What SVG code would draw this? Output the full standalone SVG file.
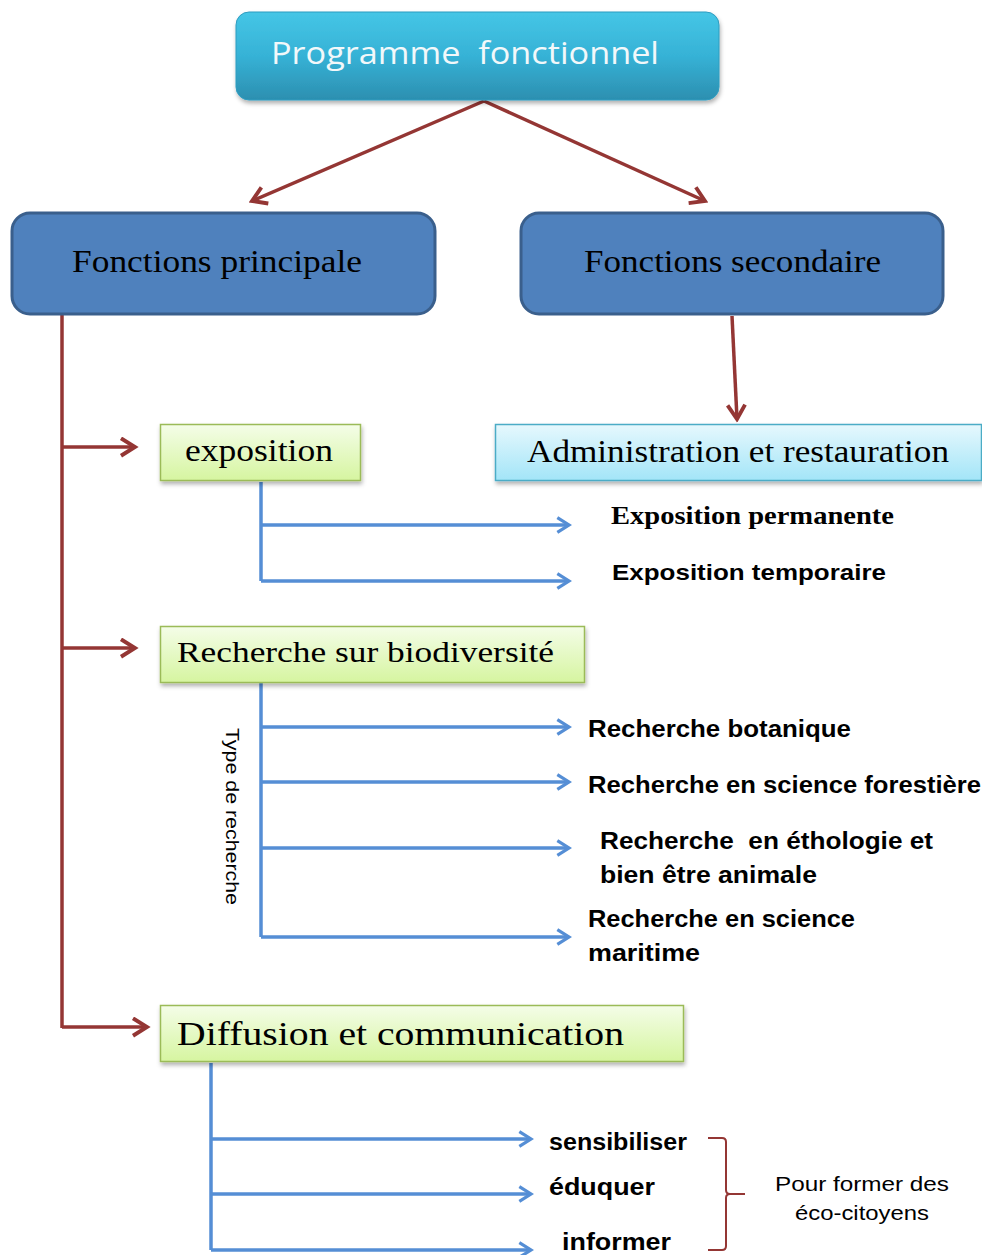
<svg xmlns="http://www.w3.org/2000/svg" width="982" height="1255" viewBox="0 0 982 1255">
<style>
.serif{font-family:"Liberation Serif","Times New Roman",serif;fill:#000}
.sans{font-family:"Liberation Sans",Arial,sans-serif;fill:#000}
.red{stroke:#943634;stroke-width:3.5;fill:none}
.blue{stroke:#558ed5;stroke-width:3.5;fill:none}
</style>
<defs>
<linearGradient id="gTop" x1="0" y1="0" x2="0" y2="1">
<stop offset="0" stop-color="#45c6e6"/><stop offset="0.5" stop-color="#36b2d6"/><stop offset="1" stop-color="#2c8fb0"/>
</linearGradient>
<linearGradient id="gGreen" x1="0" y1="0" x2="0" y2="1">
<stop offset="0" stop-color="#f4fde8"/><stop offset="1" stop-color="#d6f5a0"/>
</linearGradient>
<linearGradient id="gCyan" x1="0" y1="0" x2="0" y2="1">
<stop offset="0" stop-color="#e6f8fd"/><stop offset="1" stop-color="#a3e5f8"/>
</linearGradient>
<filter id="sh" x="-5%" y="-10%" width="110%" height="130%">
<feDropShadow dx="1" dy="3" stdDeviation="2" flood-color="#000" flood-opacity="0.3"/>
</filter>
<marker id="aRed" viewBox="0 0 12 12" refX="10" refY="6" markerWidth="6" markerHeight="6" orient="auto" markerUnits="strokeWidth">
<path d="M2,1 L10,6 L2,11" fill="none" stroke="#943634" stroke-width="2.2"/>
</marker>
<marker id="aBlue" viewBox="0 0 12 12" refX="10" refY="6" markerWidth="5" markerHeight="5" orient="auto" markerUnits="strokeWidth">
<path d="M2,1 L10,6 L2,11" fill="none" stroke="#558ed5" stroke-width="2.2"/>
</marker>
</defs>

<g id="connectors">
<line class="red" x1="484" y1="101" x2="252" y2="201" marker-end="url(#aRed)"/>
<line class="red" x1="484" y1="101" x2="705" y2="201" marker-end="url(#aRed)"/>
<line class="red" x1="732" y1="316" x2="737" y2="419" marker-end="url(#aRed)"/>
<line class="red" x1="62" y1="314" x2="62" y2="1028"/>
<line class="red" x1="62" y1="447" x2="135" y2="447" marker-end="url(#aRed)"/>
<line class="red" x1="62" y1="648" x2="135" y2="648" marker-end="url(#aRed)"/>
<line class="red" x1="62" y1="1027" x2="147" y2="1027" marker-end="url(#aRed)"/>

<polyline class="blue" points="261,482 261,581"/>
<line class="blue" x1="261" y1="525" x2="569" y2="525" marker-end="url(#aBlue)"/>
<line class="blue" x1="261" y1="581" x2="569" y2="581" marker-end="url(#aBlue)"/>

<polyline class="blue" points="261,683 261,937"/>
<line class="blue" x1="261" y1="727" x2="569" y2="727" marker-end="url(#aBlue)"/>
<line class="blue" x1="261" y1="782" x2="569" y2="782" marker-end="url(#aBlue)"/>
<line class="blue" x1="261" y1="848" x2="569" y2="848" marker-end="url(#aBlue)"/>
<line class="blue" x1="261" y1="937" x2="569" y2="937" marker-end="url(#aBlue)"/>

<polyline class="blue" points="211,1063 211,1250"/>
<line class="blue" x1="211" y1="1139" x2="531" y2="1139" marker-end="url(#aBlue)"/>
<line class="blue" x1="211" y1="1194" x2="531" y2="1194" marker-end="url(#aBlue)"/>
<line class="blue" x1="211" y1="1250" x2="531" y2="1250" marker-end="url(#aBlue)"/>

<path d="M708,1138 L722,1138 Q726,1138 726,1142 L726,1190 Q726,1194 730,1194 L745,1194 M730,1194 Q726,1194 726,1198 L726,1246 Q726,1250 722,1250 L708,1250" fill="none" stroke="#943634" stroke-width="2"/>
</g>

<g id="programme">
<rect x="236" y="12" width="483" height="88" rx="13" fill="url(#gTop)" stroke="#2f9cc0" stroke-width="1" filter="url(#sh)"/>
<text x="271" y="64" font-family="'Open Sans','Liberation Sans',sans-serif" font-size="31" fill="#f2f8fa" textLength="388" lengthAdjust="spacingAndGlyphs">Programme&#160; fonctionnel</text>
</g>

<g id="fprincipale">
<rect x="12" y="213" width="423" height="101" rx="18" fill="#4f81bd" stroke="#3a5f8c" stroke-width="3"/>
<text class="serif" x="72" y="272" font-size="31" textLength="290" lengthAdjust="spacingAndGlyphs">Fonctions principale</text>
</g>

<g id="fsecondaire">
<rect x="521" y="213" width="422" height="101" rx="18" fill="#4f81bd" stroke="#3a5f8c" stroke-width="3"/>
<text class="serif" x="584" y="272" font-size="31" textLength="297" lengthAdjust="spacingAndGlyphs">Fonctions secondaire</text>
</g>

<g id="exposition">
<rect x="160.5" y="424.5" width="200" height="56" fill="url(#gGreen)" stroke="#9bbb59" stroke-width="1.5" filter="url(#sh)"/>
<text class="serif" x="185" y="461" font-size="31" textLength="148" lengthAdjust="spacingAndGlyphs">exposition</text>
</g>

<g id="administration">
<rect x="495.5" y="424.5" width="486" height="56" fill="url(#gCyan)" stroke="#4bacc6" stroke-width="1.5" filter="url(#sh)"/>
<text class="serif" x="527" y="462" font-size="31" textLength="422" lengthAdjust="spacingAndGlyphs">Administration et restauration</text>
</g>

<g id="expo-items">
<text class="serif" x="611" y="524" font-size="25" font-weight="bold" textLength="283" lengthAdjust="spacingAndGlyphs">Exposition permanente</text>
<text class="sans" x="612" y="580" font-size="22" font-weight="bold" textLength="274" lengthAdjust="spacingAndGlyphs">Exposition temporaire</text>
</g>

<g id="recherche">
<rect x="160.5" y="626.5" width="424" height="56" fill="url(#gGreen)" stroke="#9bbb59" stroke-width="1.5" filter="url(#sh)"/>
<text class="serif" x="177" y="662" font-size="30" textLength="377" lengthAdjust="spacingAndGlyphs">Recherche sur biodiversité</text>
</g>

<g id="type-recherche">
<text class="sans" x="0" y="0" font-size="19" transform="translate(226,728) rotate(90)" textLength="177" lengthAdjust="spacingAndGlyphs">Type de recherche</text>
</g>

<g id="recherche-items">
<text class="sans" x="588" y="737" font-size="23" font-weight="bold" textLength="263" lengthAdjust="spacingAndGlyphs">Recherche botanique</text>
<text class="sans" x="588" y="793" font-size="23" font-weight="bold" textLength="393" lengthAdjust="spacingAndGlyphs">Recherche en science forestière</text>
<text class="sans" x="600" y="849" font-size="23" font-weight="bold" textLength="333" lengthAdjust="spacingAndGlyphs">Recherche&#160; en éthologie et</text>
<text class="sans" x="600" y="883" font-size="23" font-weight="bold" textLength="217" lengthAdjust="spacingAndGlyphs">bien être animale</text>
<text class="sans" x="588" y="927" font-size="23" font-weight="bold" textLength="267" lengthAdjust="spacingAndGlyphs">Recherche en science</text>
<text class="sans" x="588" y="961" font-size="23" font-weight="bold" textLength="112" lengthAdjust="spacingAndGlyphs">maritime</text>
</g>

<g id="diffusion">
<rect x="160.5" y="1005.5" width="523" height="56" fill="url(#gGreen)" stroke="#9bbb59" stroke-width="1.5" filter="url(#sh)"/>
<text class="serif" x="177" y="1045" font-size="34" textLength="447" lengthAdjust="spacingAndGlyphs">Diffusion et communication</text>
</g>

<g id="diffusion-items">
<text class="sans" x="549" y="1150" font-size="23" font-weight="bold" textLength="138" lengthAdjust="spacingAndGlyphs">sensibiliser</text>
<text class="sans" x="549" y="1195" font-size="23" font-weight="bold" textLength="106" lengthAdjust="spacingAndGlyphs">éduquer</text>
<text class="sans" x="562" y="1250" font-size="23" font-weight="bold" textLength="109" lengthAdjust="spacingAndGlyphs">informer</text>
</g>

<g id="eco-citoyens">
<text class="sans" x="862" y="1191" font-size="20" text-anchor="middle" textLength="174" lengthAdjust="spacingAndGlyphs">Pour former des</text>
<text class="sans" x="862" y="1220" font-size="20" text-anchor="middle" textLength="134" lengthAdjust="spacingAndGlyphs">éco-citoyens</text>
</g>
</svg>
